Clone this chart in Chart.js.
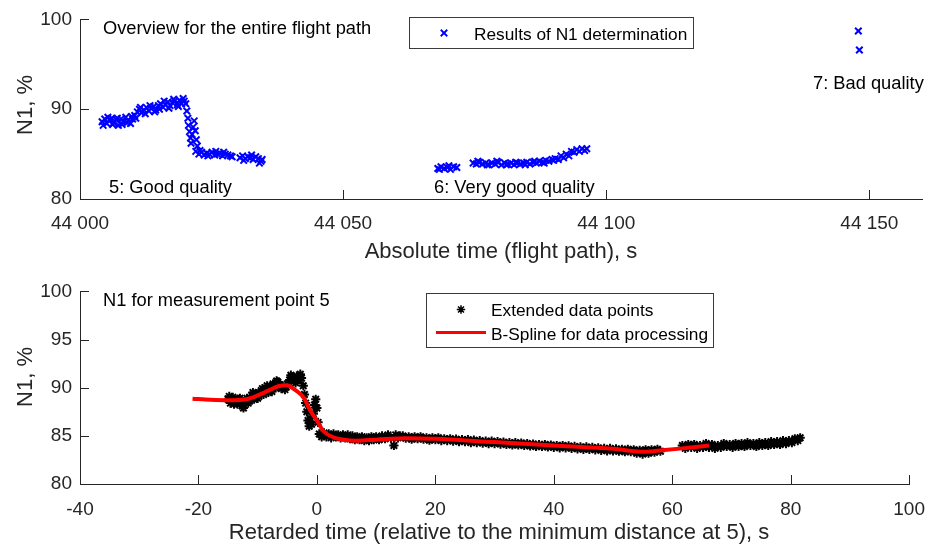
<!DOCTYPE html>
<html>
<head>
<meta charset="utf-8">
<script src="https://cdn.jsdelivr.net/npm/chart.js@4.4.1/dist/chart.umd.min.js"></script>
<style>
  html, body { margin: 0; padding: 0; background: #fff; }
  #wrap { position: relative; width: 939px; height: 544px; }
  #wrap canvas { position: absolute; left: 0; }
</style>
</head>
<body>
<div id="wrap">
  <canvas id="overviewChart" width="939" height="272" style="top:0"></canvas>
  <canvas id="pointChart" width="939" height="272" style="top:272px"></canvas>
</div>
<script>
// N1 results over the whole flight path, measurement points 5, 6 and 7
const flightTime5 = [44004.2, 44004.7, 44005.1, 44005.6, 44006.0, 44006.4, 44006.9, 44007.3, 44007.8, 44008.2,
  44008.7, 44009.1, 44009.6, 44010.0, 44010.4, 44010.9, 44011.3, 44011.7, 44012.2, 44012.6,
  44013.1, 44013.5, 44014.0, 44014.4, 44014.9, 44015.3, 44015.8, 44016.2, 44016.7, 44017.1,
  44017.6, 44018.0, 44018.5, 44018.9, 44019.3, 44019.8, 44020.1, 44020.3, 44020.5, 44020.6,
  44020.8, 44021.0, 44021.1, 44021.3, 44021.5, 44021.7, 44021.9, 44022.1, 44022.3, 44022.0,
  44022.6, 44023.1, 44023.6, 44024.1, 44024.6, 44025.1, 44025.6, 44026.1, 44026.6, 44027.1,
  44027.6, 44028.1, 44028.6, 44030.4, 44030.9, 44031.4, 44031.9, 44032.4, 44032.9, 44033.4,
  44033.9, 44034.4, 44034.6,
  44004.4, 44005.3, 44006.2, 44007.1, 44008.0, 44008.9, 44009.8, 44010.6, 44011.5, 44012.4,
  44013.3, 44014.2, 44015.1, 44016.0, 44016.9, 44017.8, 44018.7, 44019.6,
  44022.8, 44024.3, 44025.8, 44027.3, 44028.9, 44031.1, 44032.6, 44034.1];
const flightN1_5 = [88.6, 88.9, 88.4, 88.8, 89.0, 88.5, 88.8, 88.2, 88.9, 88.6,
  89.1, 88.7, 88.4, 88.9, 89.3, 89.7, 90.0, 89.6, 89.9, 90.2,
  89.8, 90.1, 90.3, 89.9, 90.4, 90.6, 90.2, 90.5, 90.8, 90.4,
  90.7, 90.9, 90.5, 91.0, 90.6, 90.9, 90.6, 89.8, 89.0, 88.2,
  87.5, 86.8, 86.2, 87.2, 88.0, 88.7, 87.6, 86.6, 85.9, 85.3,
  85.0, 85.2, 84.9, 85.1, 85.0, 85.2, 84.9, 85.0, 85.1, 84.8,
  85.0, 84.9, 84.8, 84.6, 84.8, 84.5, 84.7, 84.6, 84.4, 84.7,
  84.5, 84.2, 84.4,
  88.2, 89.1, 88.3, 89.0, 88.3, 88.5, 89.2, 89.0, 90.2, 89.5,
  90.4, 89.7, 90.0, 90.9, 90.1, 91.1, 90.3, 91.2,
  85.4, 84.8, 85.3, 85.2, 84.7, 84.3, 84.9, 84.0];

const flightTime6 = [44068.0, 44068.6, 44069.2, 44069.8, 44070.4, 44071.0, 44071.6,
  44074.7, 44075.3, 44075.9, 44076.5, 44077.1, 44077.7, 44078.3, 44078.9, 44079.5, 44080.1,
  44080.7, 44081.3, 44081.9, 44082.5, 44083.1, 44083.7, 44084.3, 44084.9, 44085.5, 44086.1,
  44086.7, 44087.3, 44087.9, 44088.5, 44089.1, 44089.7, 44090.3, 44090.9,
  44091.4, 44091.9, 44092.4, 44092.9, 44093.4, 44093.9, 44094.4, 44094.9, 44095.4, 44095.9, 44096.3,
  44068.3, 44070.1, 44075.6, 44077.4, 44079.2, 44081.0, 44082.8, 44084.6, 44086.4, 44088.2, 44090.0];
const flightN1_6 = [83.4, 83.6, 83.4, 83.5, 83.3, 83.6, 83.5,
  84.0, 83.9, 84.1, 83.9, 84.0, 83.8, 84.0, 83.9, 84.1, 83.8,
  84.0, 83.9, 84.0, 83.8, 84.0, 83.9, 84.0, 84.1, 83.9, 84.1,
  84.0, 84.2, 84.1, 84.3, 84.2, 84.4, 84.5, 84.4,
  84.8, 84.6, 85.0, 84.8, 85.3, 85.2, 85.5, 85.3, 85.6, 85.4, 85.6,
  83.3, 83.7, 84.2, 83.8, 84.2, 83.8, 84.1, 83.8, 84.2, 84.0, 84.3];

const flightTime7 = [44147.9, 44148.1];
const flightN1_7 = [98.7, 96.6];

// measurement point 5 on the retarded time axis
const retardedTime = [
  -15.0, -14.8, -14.6, -14.2, -14.0, -13.8, -13.4, -13.2, -13.0, -12.6,
  -12.4, -12.2, -11.8, -11.6, -11.4, -11.0, -10.8, -10.6, -10.2, -10.0,
  -9.8, -9.4, -9.2, -9.0, -8.6, -8.4, -8.2, -7.8, -7.6, -7.4,
  -7.0, -6.8, -6.6, -6.2, -6.0, -5.8, -5.4, -5.2, -5.0, -4.6,
  -4.4, -4.2, -3.8, -3.6, -3.4, -3.0, -2.8, -2.6, -2.3, -2.1,
  -1.9, -1.7, -1.5, -1.3, -1.1, -0.9, -0.6, -0.4, -0.2, 0.0, 0.2,
  0.4, 0.8, 1.2, 1.6, 2.0, 2.4, 2.8, 3.2, 3.6, 4.0,
  4.4, 4.8, 5.2, 5.6, 6.0, 6.4, 6.8, 7.2, 7.6, 8.0,
  8.4, 8.8, 9.2, 9.6, 10.0, 10.5, 11.0, 11.5, 12.0, 12.5,
  13.0, 13.3, 13.7, 14.0,
  14.5, 15.0, 15.5, 16.0, 16.5, 17.0, 17.5, 18.0, 18.5, 19.0,
  19.5, 20.0, 20.5, 21.0, 21.5, 22.0, 22.5, 23.0, 23.5, 24.0,
  24.5, 25.0, 25.5, 26.0, 26.5, 27.0, 27.5, 28.0, 28.5, 29.0,
  29.5, 30.0, 30.5, 31.0, 31.5, 32.0, 32.5, 33.0, 33.5, 34.0,
  34.5, 35.0, 35.5, 36.0, 36.5, 37.0, 37.5, 38.0, 38.5, 39.0,
  39.5, 40.0, 40.5, 41.0, 41.5, 42.0, 42.5, 43.0, 43.5, 44.0,
  44.5, 45.0, 45.5, 46.0, 46.5, 47.0, 47.5, 48.0, 48.5, 49.0,
  49.5, 50.0, 50.5, 51.0, 51.5, 52.0, 52.5, 53.0, 53.5, 54.0,
  54.5, 55.0, 55.5, 56.0, 56.5, 57.0, 57.5, 58.0,
  61.7, 62.2, 62.7, 63.2, 63.7, 64.2, 64.7, 65.2, 65.7, 66.2,
  66.7, 67.2, 67.7, 68.2, 68.7, 69.2, 69.7, 70.2, 70.7, 71.2,
  71.7, 72.2, 72.7, 73.2, 73.7, 74.2, 74.7, 75.2, 75.7, 76.2,
  76.7, 77.2, 77.7, 78.2, 78.7, 79.2, 79.7, 80.2, 80.7, 81.2, 81.6];
const extendedN1 = [
  88.8, 89.1, 88.4, 89.0, 88.3, 88.6, 88.3, 88.8, 88.9, 88.1,
  87.9, 88.5, 88.9, 88.4, 88.6, 89.2, 89.5, 88.8, 89.4, 88.9,
  89.1, 89.7, 89.9, 89.3, 89.9, 90.2, 89.5, 90.1, 89.6, 90.4,
  90.0, 90.7, 90.6, 90.3, 89.9, 90.0, 89.8, 90.1, 90.4, 90.8,
  91.3, 91.1, 90.7, 90.5, 91.2, 90.8, 91.4, 91.0, 90.2, 89.3,
  88.4, 87.5, 86.6, 86.0, 86.8, 86.2, 87.3, 88.2, 88.8, 87.9, 86.4,
  85.2, 84.9, 85.3, 84.9, 85.2, 84.8, 85.2, 84.9, 85.1, 84.8,
  85.1, 84.8, 85.1, 84.7, 85.0, 84.6, 84.9, 84.6, 84.9, 84.5,
  84.8, 84.5, 84.9, 84.6, 84.9, 84.6, 85.0, 84.7, 85.1, 84.8,
  84.0, 85.1, 84.8, 85.0,
  85.0, 84.75, 84.9, 84.65, 84.9, 84.7, 84.9, 84.65, 84.8, 84.55,
  84.8, 84.6, 84.8, 84.5, 84.7, 84.5, 84.7, 84.45, 84.65, 84.4,
  84.6, 84.4, 84.6, 84.3, 84.55, 84.3, 84.5, 84.25, 84.45, 84.2,
  84.45, 84.2, 84.4, 84.15, 84.35, 84.1, 84.3, 84.05, 84.3, 84.05,
  84.25, 84.0, 84.2, 83.95, 84.15, 83.9, 84.1, 83.9, 84.1, 83.85,
  84.05, 83.8, 84.0, 83.75, 84.0, 83.75, 83.95, 83.7, 83.9, 83.65,
  83.85, 83.6, 83.85, 83.6, 83.8, 83.55, 83.75, 83.5, 83.7, 83.45,
  83.7, 83.45, 83.65, 83.4, 83.6, 83.35, 83.6, 83.35, 83.55, 83.2,
  83.5, 83.1, 83.55, 83.2, 83.55, 83.3, 83.6, 83.4,
  84.0, 83.7, 84.1, 83.8, 84.1, 83.7, 84.0, 83.8, 84.2, 83.8,
  84.1, 83.7, 84.0, 83.8, 84.2, 83.9, 84.1, 83.8, 84.2, 83.9,
  84.2, 83.9, 84.3, 84.0, 84.2, 83.9, 84.3, 84.0, 84.3, 84.0,
  84.4, 84.1, 84.4, 84.1, 84.5, 84.2, 84.5, 84.3, 84.7, 84.5, 84.8];

// knots of the smoothing B-spline
const splineTime = [-21, -18, -15, -12, -10, -8, -6.5, -5, -4.2, -3.3, -2.2, -1.1, 0, 1.1,
  2.8, 4.5, 6.7, 10, 15, 20, 30, 40, 50, 55.5, 58.3, 61.7, 64, 66.2];
const splineN1 = [88.85, 88.75, 88.7, 88.8, 89.2, 89.75, 90.15, 90.25, 90.0, 89.6, 88.95, 87.6, 86.6, 85.5,
  84.85, 84.6, 84.5, 84.6, 84.75, 84.7, 84.35, 84.0, 83.65, 83.35, 83.5, 83.7, 83.85, 84.0];

const AXIS_COLOR = '#262626';
const FONT = '"Liberation Sans", Arial, Helvetica, sans-serif';

Chart.defaults.font.family = FONT;
Chart.defaults.color = AXIS_COLOR;

const toPoints = (xs, ys) => xs.map((x, i) => ({ x: x, y: ys[i] }));
const spaced = v => String(v).replace(/\B(?=(\d{3})+$)/g, ' ');

// inward ticks, axis titles, text notes and a boxed legend, drawn the MATLAB way
function axisDecor(cfg) {
  return {
    id: 'axisDecor',
    afterDraw(chart) {
      const { ctx, chartArea: a, scales: { x, y } } = chart;
      ctx.save();

      ctx.strokeStyle = AXIS_COLOR;
      ctx.lineWidth = 1;
      ctx.beginPath();
      x.ticks.forEach(t => {
        const px = Math.round(x.getPixelForValue(t.value)) + 0.5;
        ctx.moveTo(px, a.bottom);
        ctx.lineTo(px, a.bottom - 9);
      });
      y.ticks.forEach(t => {
        const py = Math.round(y.getPixelForValue(t.value)) + 0.5;
        ctx.moveTo(a.left, py);
        ctx.lineTo(a.left + 9, py);
      });
      ctx.stroke();

      ctx.fillStyle = AXIS_COLOR;
      ctx.font = '22px ' + FONT;
      ctx.textAlign = 'center';
      ctx.textBaseline = 'alphabetic';
      ctx.fillText(cfg.xTitle, cfg.xTitlePos[0], cfg.xTitlePos[1]);
      ctx.save();
      ctx.translate(cfg.yTitlePos[0], cfg.yTitlePos[1]);
      ctx.rotate(-Math.PI / 2);
      ctx.fillText(cfg.yTitle, 0, 0);
      ctx.restore();

      ctx.fillStyle = '#000';
      ctx.font = '18.3px ' + FONT;
      ctx.textAlign = 'left';
      cfg.notes.forEach(n => ctx.fillText(n.text, n.x, n.y));

      const lg = cfg.legend;
      ctx.fillStyle = '#fff';
      ctx.fillRect(lg.box[0], lg.box[1], lg.box[2], lg.box[3]);
      ctx.strokeStyle = '#3a3a3a';
      ctx.lineWidth = 1;
      ctx.strokeRect(lg.box[0], lg.box[1], lg.box[2], lg.box[3]);
      ctx.font = '17.3px ' + FONT;
      lg.rows.forEach(r => {
        const ds = chart.data.datasets[r.dataset];
        if (ds.showLine) {
          ctx.strokeStyle = ds.borderColor;
          ctx.lineWidth = 3;
          ctx.beginPath();
          ctx.moveTo(r.symbol[0] - 25, r.symbol[1]);
          ctx.lineTo(r.symbol[0] + 25, r.symbol[1]);
          ctx.stroke();
        } else {
          ctx.strokeStyle = ds.pointBorderColor;
          ctx.lineWidth = ds.legendBorderWidth;
          Chart.helpers.drawPoint(ctx, {
            pointStyle: ds.pointStyle, radius: ds.legendRadius,
            borderWidth: ds.legendBorderWidth, rotation: 0
          }, r.symbol[0], r.symbol[1]);
        }
        ctx.fillStyle = '#000';
        ctx.fillText(ds.label, r.text[0], r.text[1]);
      });

      ctx.restore();
    }
  };
}

function axisOptions(min, max, step, extra) {
  return Object.assign({
    type: 'linear', min: min, max: max,
    grid: { display: false, drawTicks: false },
    border: { display: true, color: AXIS_COLOR, width: 1 },
    ticks: { stepSize: step, includeBounds: false, autoSkip: false, maxRotation: 0,
      color: AXIS_COLOR, font: { size: 19 } }
  }, extra);
}

new Chart(document.getElementById('overviewChart'), {
  type: 'scatter',
  data: {
    datasets: [{
      label: 'Results of N1 determination',
      data: toPoints(flightTime5, flightN1_5)
        .concat(toPoints(flightTime6, flightN1_6))
        .concat(toPoints(flightTime7, flightN1_7)),
      pointStyle: 'crossRot',
      pointRadius: 4.6,
      legendRadius: 4.6,
      pointBorderColor: '#0000ff',
      pointBorderWidth: 2,
      legendBorderWidth: 1.8,
      borderColor: '#0000ff',
      backgroundColor: '#0000ff'
    }]
  },
  options: {
    responsive: false,
    animation: false,
    layout: { padding: { top: 18, right: 17, left: 0, bottom: 0 } },
    plugins: { legend: { display: false }, tooltip: { enabled: false } },
    scales: {
      x: axisOptions(44000, 44160, 50, {
        afterFit: s => { s.height = 73; }
      }),
      y: axisOptions(80, 100, 10, {
        afterFit: s => { s.width = 80; }
      })
    }
  },
  plugins: [axisDecor({
    xTitle: 'Absolute time (flight path), s', xTitlePos: [501, 258],
    yTitle: 'N1, %', yTitlePos: [32, 105],
    notes: [
      { text: 'Overview for the entire flight path', x: 103, y: 34 },
      { text: '5: Good quality', x: 109, y: 192.5 },
      { text: '6: Very good quality', x: 434, y: 192.5 },
      { text: '7: Bad quality', x: 813, y: 89 }
    ],
    legend: { box: [409.5, 17.5, 284, 31], rows: [{ dataset: 0, symbol: [444, 33], text: [474, 39.5] }] }
  })]
});

// tick label format for the absolute time axis
Chart.getChart('overviewChart').options.scales.x.ticks.callback = v => spaced(v);
Chart.getChart('overviewChart').options.scales.x.ticks.padding = 13;
Chart.getChart('overviewChart').options.scales.y.ticks.padding = 8;
Chart.getChart('overviewChart').update();

new Chart(document.getElementById('pointChart'), {
  type: 'scatter',
  data: {
    datasets: [{
      type: 'line',
      label: 'B-Spline for data processing',
      data: toPoints(splineTime, splineN1),
      showLine: true,
      borderColor: '#ff0000',
      borderWidth: 4,
      pointRadius: 0,
      cubicInterpolationMode: 'monotone',
      fill: false,
      order: 0
    }, {
      label: 'Extended data points',
      data: toPoints(retardedTime, extendedN1),
      pointStyle: 'star',
      pointRadius: 4.6,
      legendRadius: 4.2,
      pointBorderColor: '#000',
      pointBorderWidth: 2,
      legendBorderWidth: 1.5,
      borderColor: '#000',
      backgroundColor: '#000',
      order: 1
    }]
  },
  options: {
    responsive: false,
    animation: false,
    layout: { padding: { top: 17, right: 19, left: 0, bottom: 0 } },
    plugins: { legend: { display: false }, tooltip: { enabled: false } },
    scales: {
      x: axisOptions(-40, 100, 20, {
        afterFit: s => { s.height = 60; }
      }),
      y: axisOptions(80, 100, 5, {
        afterFit: s => { s.width = 80; }
      })
    }
  },
  plugins: [axisDecor({
    xTitle: 'Retarded time (relative to the minimum distance at 5), s', xTitlePos: [499, 267],
    yTitle: 'N1, %', yTitlePos: [32, 105],
    notes: [
      { text: 'N1 for measurement point 5', x: 103, y: 34 }
    ],
    legend: {
      box: [426.5, 21.5, 287, 54],
      rows: [
        { dataset: 1, symbol: [461, 37.5], text: [491, 43.5] },
        { dataset: 0, symbol: [461, 60.5], text: [491, 67.5] }
      ]
    }
  })]
});

Chart.getChart('pointChart').options.scales.x.ticks.padding = 14;
Chart.getChart('pointChart').options.scales.y.ticks.padding = 8;
Chart.getChart('pointChart').update();
</script>
</body>
</html>
